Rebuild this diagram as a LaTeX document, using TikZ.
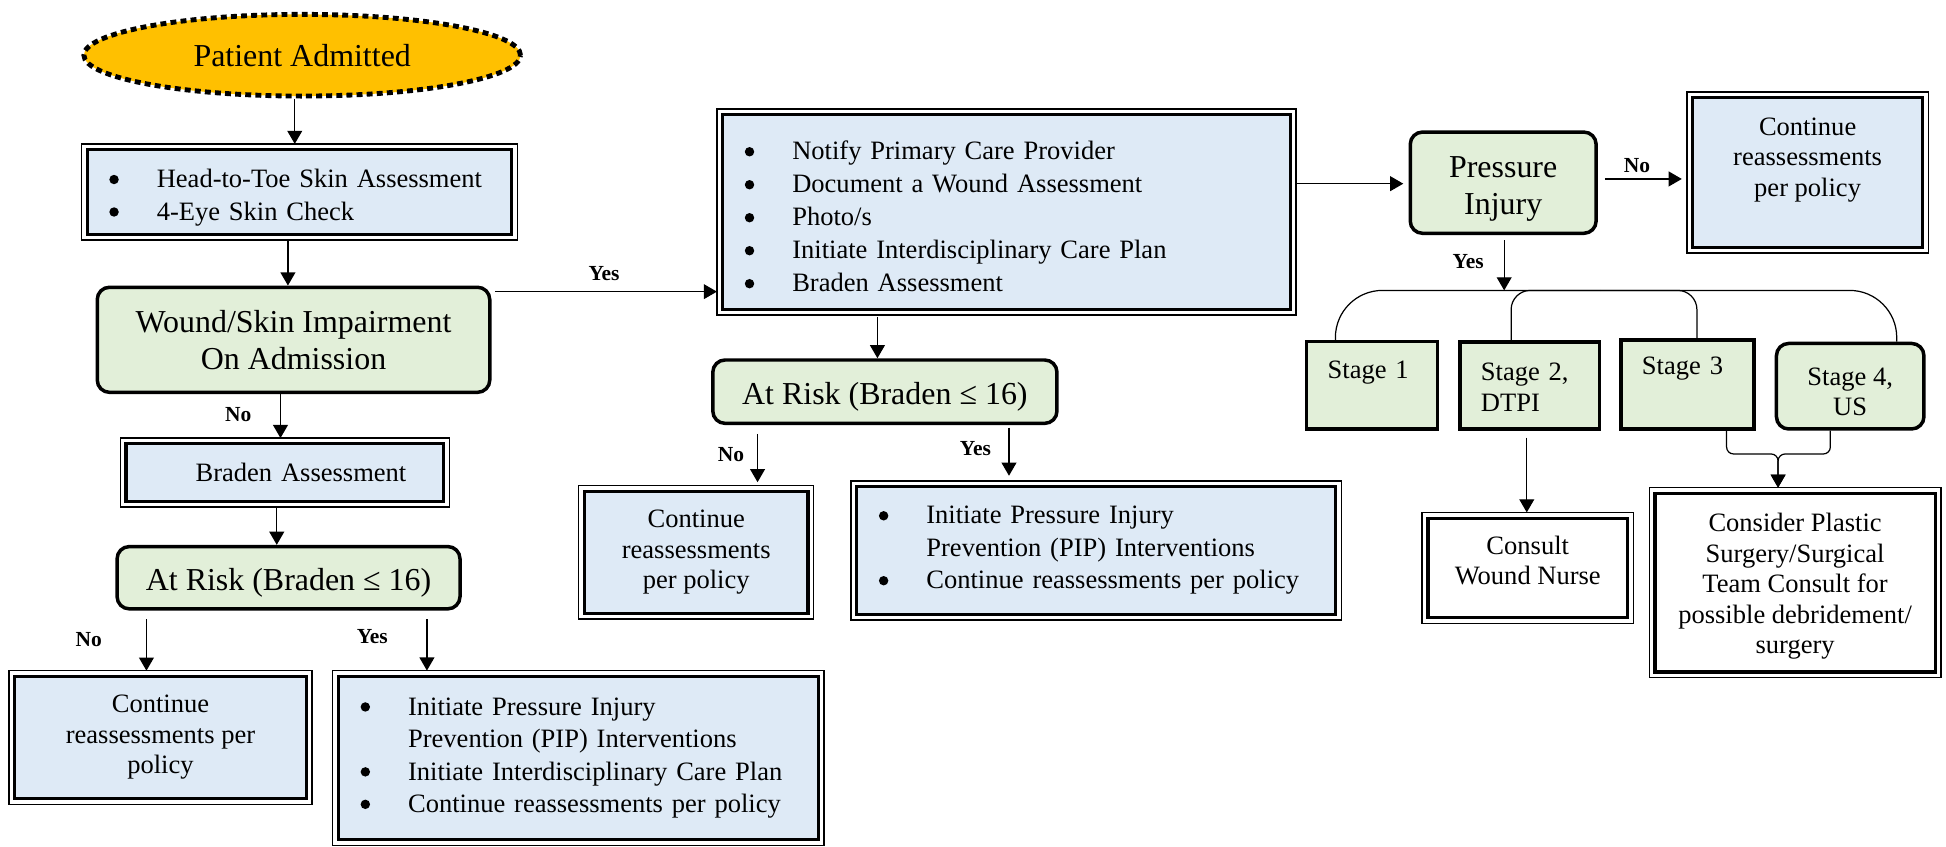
\documentclass[tikz,border=0pt]{standalone}
\usepackage{fontspec}
\setmainfont{Liberation Serif}
\usetikzlibrary{shapes.geometric,arrows.meta}
\setlength{\parindent}{0pt}
\definecolor{boxblue}{RGB}{222,234,246}
\definecolor{boxgreen}{RGB}{226,239,217}
\definecolor{startgold}{RGB}{255,192,0}
\newcommand{\bul}{\makebox[28.2pt][l]{\hspace{1pt}\tikz[baseline]\fill[black] (2.75pt,4.7pt) circle[radius=2.7pt];}}
\newcommand{\ind}{\hspace*{28.2pt}}
\newcommand{\up}[1]{\rule{0pt}{#1}}

\begin{document}
\begin{tikzpicture}
	[
		x={(0.025cm, 0cm)},
		y={(0cm, -0.025cm)},
		big/.style={font=\fontsize{18.3}{21}\selectfont},
		txt/.style={font=\fontsize{15.2}{17.5}\selectfont},
		lbl/.style={font=\fontsize{12.3}{14}\selectfont\bfseries, inner sep=0pt},
		arr/.style={line width=0.7pt, -{Triangle[length=7.5pt,width=8.5pt]}},
		dbl/.style={rectangle, draw, line width=1.8pt, fill=boxblue, outer sep=3.3pt, inner sep=0pt, txt, align=center},
		lst/.style={dbl, inner xsep=11.7pt, align=left, font=\fontsize{15.2}{18.6}\selectfont},
		decide/.style={rectangle, rounded corners=7pt, draw, line width=2pt, fill=boxgreen, big, align=center, inner sep=0pt},
		stagebox/.style={rectangle, draw, line width=2pt, fill=boxgreen, txt, inner sep=0pt}
	]
	\useasboundingbox (0,0) rectangle (1568,682);

	% Left column
	\node[ellipse, draw, dash pattern=on 3.4pt off 2.4pt, line width=2.8pt, fill=startgold, minimum width=250.2pt, minimum height=46.8pt, inner sep=0pt, big] (admit) at (243.5,44.5) {Patient Admitted};
	\node[lst, text width=219.9pt, minimum height=48.5pt] (skin) at (241.3,154.7) {\up{17pt}\bul Head-to-Toe Skin Assessment\\\bul 4-Eye Skin Check};
	\node[decide, minimum width=224.9pt, minimum height=60.2pt] (wound) at (236.5,273.8) {Wound/Skin Impairment\\On Admission};
	\node[lst, text width=158.6pt, minimum height=33pt] (braden) at (229.5,380.8) {\ind Braden Assessment};
	\node[decide, minimum width=196.5pt, minimum height=35.7pt] (risk1) at (232.5,465.5) {\up{18.7pt}At Risk (Braden ≤ 16)};
	\node[dbl, minimum width=166.9pt, minimum height=69.9pt] (cont1) at (129.3,594.2) {Continue\\reassessments per\\policy};
	\node[lst, text width=251.5pt, minimum height=93.5pt] (pip1) at (466,610.7) {\bul Initiate Pressure Injury\\\ind Prevention (PIP) Interventions\\\bul Initiate Interdisciplinary Care Plan\\\bul Continue reassessments per policy};

	% Middle column
	\node[lst, font=\fontsize{15.2}{18.9}\selectfont, text width=301.9pt, minimum height=111.4pt] (notify) at (811,170.9) {\up{16pt}\bul Notify Primary Care Provider\\\bul Document a Wound Assessment\\\bul Photo/s\\\bul Initiate Interdisciplinary Care Plan\\\bul Braden Assessment};
	\node[decide, minimum width=197.2pt, minimum height=36.3pt] (risk2) at (713,315.6) {\up{18.7pt}At Risk (Braden ≤ 16)};
	\node[dbl, minimum width=128pt, minimum height=69.7pt] (cont2) at (561,445) {Continue\\reassessments\\per policy};
	\node[lst, text width=250.9pt, minimum height=73.1pt] (pip2) at (883.2,443.6) {\bul Initiate Pressure Injury\\\ind Prevention (PIP) Interventions\\\bul Continue reassessments per policy};

	% Right column
	\node[decide, minimum width=106.5pt, minimum height=58pt] (injury) at (1211.2,147.2) {\up{19pt}Pressure\\Injury};
	\node[dbl, minimum width=131.6pt, minimum height=85.7pt] (cont3) at (1456.5,138.9) {Continue\\reassessments\\per policy\\\mbox{}};
	\node[stagebox, text width=50.8pt, align=left, inner xsep=12pt, text height=21pt, text depth=29pt, minimum width=74.8pt, minimum height=49.9pt] (st1) at (1105.5,310.5) {Stage 1};
	\node[stagebox, text width=56pt, align=left, inner xsep=12pt, minimum width=80pt, minimum height=49.9pt] (st2) at (1232.6,310.5) {\up{12pt}Stage 2,\\DTPI};
	\node[stagebox, line width=2.4pt, text width=52pt, align=left, inner xsep=12pt, text height=19.9pt, text depth=31pt, minimum width=76pt, minimum height=50.9pt] (st3) at (1359.6,309.8) {Stage 3};
	\node[stagebox, rounded corners=7pt, align=center, minimum width=84.5pt, minimum height=49pt] (st4) at (1490.8,311.2) {\up{16.5pt}Stage 4,\\US};
	\node[dbl, fill=white, minimum width=114.4pt, minimum height=57pt] (nurse) at (1231,457.6) {Consult\\Wound Nurse\rule[-8.5pt]{0pt}{0pt}};
	\node[dbl, fill=white, minimum width=160.5pt, minimum height=102.3pt] (plastic) at (1446.4,469.5) {\up{15pt}Consider Plastic\\Surgery/Surgical\\Team Consult for\\possible debridement/\\surgery};

	% Outer frames
	\foreach \n in {skin, braden, cont1, pip1, notify, cont2, pip2, cont3, nurse, plastic}
		\draw[line width=0.8pt] (\n.north west) rectangle (\n.south east);

	% Labels
	\node[lbl] (yes1) at (486.7,220.8) {Yes};
	\node[lbl] (no1) at (192,334) {No};
	\node[lbl] (no2) at (71.5,515.7) {No};
	\node[lbl] (yes2) at (300,513) {Yes};
	\node[lbl] (no3) at (589,366) {No};
	\node[lbl] (yes3) at (786,361.8) {Yes};
	\node[lbl] (no4) at (1319,133.8) {No};
	\node[lbl] (yes4) at (1183,211) {Yes};

	% Arrows
	\draw[arr] (admit.south -| 237.5,0) -- (skin.north -| 237.5,0);
	\draw[arr] (skin.south -| 232,0) -- (wound.north -| 232,0);
	\draw[arr, shorten <=2pt] (wound.north east |- 0,235) -- (notify.west |- 0,235);
	\draw[arr] (wound.south -| 226,0) -- (braden.north -| 226,0);
	\draw[arr] (braden.south -| 223,0) -- (risk1.north -| 223,0);
	\draw[arr, shorten <=5pt] (risk1.south -| 118,0) -- (cont1.north -| 118,0);
	\draw[arr, shorten <=5pt] (risk1.south -| 344,0) -- (pip1.north -| 344,0);
	\draw[arr, shorten <=1pt] (notify.south -| 707,0) -- (risk2.north -| 707,0);
	\draw[arr, shorten <=5pt, shorten >=2pt] (risk2.south -| 610.4,0) -- (cont2.north -| 610.4,0);
	\draw[arr, shorten <=1.5pt, shorten >=3pt] (risk2.south -| 813,0) -- (pip2.north -| 813,0);
	\draw[arr, shorten >=3pt] (notify.east |- 0,148) -- (injury.west |- 0,148);
	\draw[arr, shorten <=4pt, shorten >=3pt] (injury.east |- 0,144.2) -- (cont3.west |- 0,144.2);

	% Stage bracket
	\coordinate (fork) at (1212,234);
	\coordinate (mid) at (1290,234);
	\draw[arr, shorten <=3pt] (injury.south -| fork) -- (fork);
	\draw[line width=0.7pt, rounded corners=27pt] (st1.north -| 1076,0) |- (fork) -| (st4.north -| 1528.3,0);
	\draw[line width=0.7pt, rounded corners=11pt] (st2.north -| 1217.6,0) |- (mid);
	\draw[line width=0.7pt, rounded corners=11pt] (st3.north -| 1367.3,0) |- (mid);
	\draw[arr, shorten <=4pt] (st2.south -| 1230.2,0) -- (nurse.north -| 1230.2,0);
	\coordinate (merge) at (1432.7,365.8);
	\draw[arr, rounded corners=4pt] (st3.south -| 1391.2,0) |- (merge) -- (plastic.north -| merge);
	\draw[arr, rounded corners=4pt] (st4.south -| 1474.8,0) |- (merge) -- (plastic.north -| merge);
\end{tikzpicture}
\end{document}
